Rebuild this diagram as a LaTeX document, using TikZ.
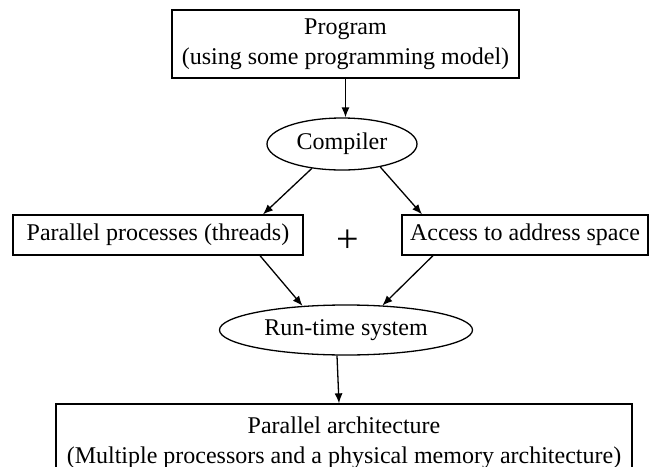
\documentclass[tikz,border=0pt]{standalone}
\usepackage{fontspec}
\setmainfont{Liberation Serif}
\usetikzlibrary{shapes.geometric,arrows.meta,calc}

\begin{document}
\begin{tikzpicture}[x=0.5pt,y=-0.5pt,
  every node/.style={font=\fontsize{12}{15}\selectfont},
  box/.style={draw,rectangle,line width=0.65pt,inner sep=0pt,align=center},
  oval/.style={draw,ellipse,line width=0.65pt,inner sep=0pt},
  arr/.style={line width=0.65pt,-{Latex[length=5pt,width=4pt]}}]
\useasboundingbox (0,0) rectangle (650,467);
\node [box,minimum width=173.5pt,minimum height=34pt] (prog) at (345.5,44) {Program\\(using some programming model)};
\node [oval,minimum width=75pt,minimum height=26pt] (comp) at (342,144) {Compiler};
\node [box,minimum width=145pt,minimum height=20pt] (par) at (158,235) {Parallel processes (threads)};
\node [box,minimum width=123pt,minimum height=20pt] (acc) at (525,235) {Access to address space};
\node [font=\fontsize{20}{20}\selectfont] (plus) at (348,241) {+};
\node [oval,minimum width=126.5pt,minimum height=25pt] (rts) at (346,330) {Run-time system};
\node [box,minimum width=288pt,minimum height=38.4pt] (arch) at (344,442.4) {Parallel architecture\\(Multiple processors and a physical memory architecture)};
\draw [arr] (prog.south) -- (prog.south |- comp.north);
\draw [arr] (comp.219) -- ($(par.north)+(105,0)$);
\draw [arr] (comp.329) -- ($(acc.north)+(-103,0)$);
\draw [arr] ($(par.south)+(102,0)$) -- (rts.151);
\draw [arr] ($(acc.south)+(-92,0)$) -- (rts.34);
\draw [arr] ($(rts.south)+(-9,0)$) -- ($(arch.north)+(-5,0)$);
\end{tikzpicture}
\end{document}
